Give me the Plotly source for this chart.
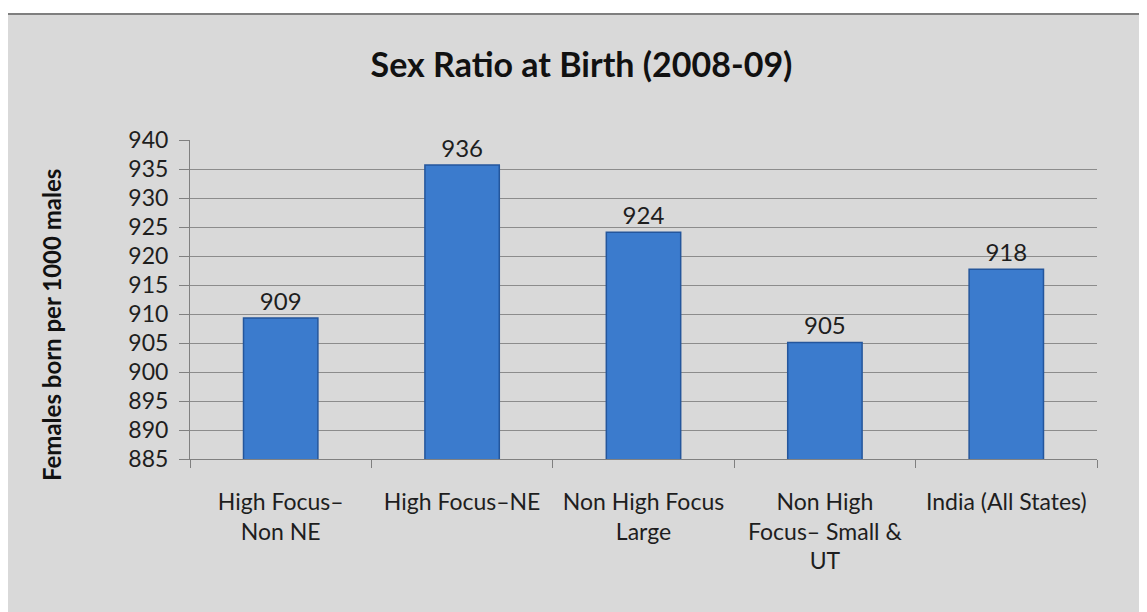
import plotly.graph_objects as go

categories = [
    "High Focus–<br>Non NE",
    "High Focus–NE",
    "Non High Focus<br>Large",
    "Non High<br>Focus– Small &<br>UT",
    "India (All States)",
]
sex_ratio = [909.3, 935.7, 924.1, 905.1, 917.7]
bar_labels = ["909", "936", "924", "905", "918"]
y_ticks = list(range(885, 941, 5))

FONT = "Lato, 'Open Sans', sans-serif"

# the page body adds an 8px offset, so margins are the reference minus 8
L, R, T, B = 182, 58, 132, 161
PW, PH = 1147 - L - R, 612 - T - B

fig = go.Figure()
fig.add_trace(go.Bar(
    x=categories,
    y=sex_ratio,
    text=bar_labels,
    textposition="outside",
    textfont=dict(size=24, color="#1e1e1e", family=FONT),
    cliponaxis=False,
    width=0.41,
    marker=dict(color="#3b7bcd", line=dict(color="#24569c", width=1.5)),
    hoverinfo="x+y",
))

fig.update_layout(
    width=1147,
    height=612,
    margin=dict(l=L, r=R, t=T, b=B),
    paper_bgcolor="white",
    plot_bgcolor="white",
    showlegend=False,
    font=dict(family=FONT, color="#1e1e1e"),
    title=dict(
        text="<b>Sex Ratio at Birth (2008-09)</b>",
        x=0.5, xanchor="center", xref="container",
        y=1 - 57 / 612, yanchor="middle",
        font=dict(size=34, color="#111111", family=FONT),
    ),
    xaxis=dict(
        tickson="boundaries",
        ticks="outside",
        ticklen=8,
        tickcolor="#808080",
        showline=True,
        linecolor="#808080",
        tickfont=dict(size=23, color="#1e1e1e"),
        ticklabelstandoff=22,
        showgrid=False,
    ),
    yaxis=dict(
        range=[885, 940],
        tickvals=y_ticks,
        ticks="outside",
        ticklen=10,
        tickcolor="#808080",
        showline=True,
        linecolor="#808080",
        showgrid=True,
        gridcolor="#8c8c8c",
        gridwidth=1,
        tickfont=dict(size=23, color="#1e1e1e"),
        ticklabelstandoff=6,
    ),
    annotations=[
        dict(text="<b>Females born per 1000 males</b>", textangle=-90,
             xref="paper", yref="paper", x=(43 - L) / PW, y=(PH + T - 317) / PH,
             xanchor="center", yanchor="middle", showarrow=False,
             font=dict(size=24, color="#111111", family=FONT)),
    ],
    shapes=[
        dict(type="rect", xref="paper", yref="paper", layer="below",
             x0=(-1 - L) / PW, x1=(1160 - L) / PW,
             y0=-(640 - (612 - B)) / PH, y1=1 + (T - 6) / PH,
             fillcolor="#d9d9d9", line=dict(color="#7f7f7f", width=2)),
    ],
)

fig.write_html("out.html")
